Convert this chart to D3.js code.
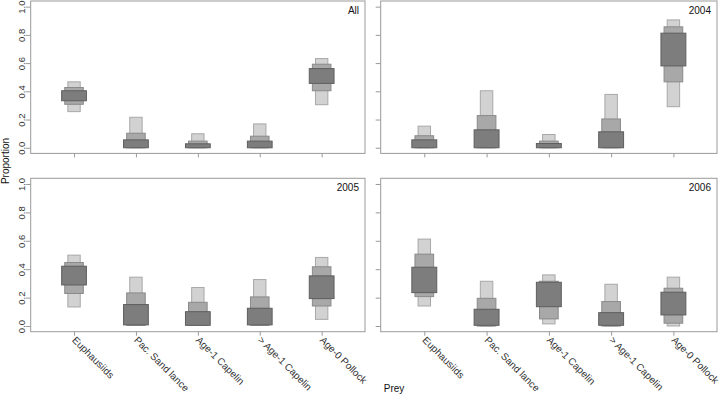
<!DOCTYPE html>
<html>
<head>
<meta charset="utf-8">
<script src="https://cdn.jsdelivr.net/npm/d3@7"></script>
<style>
    body { margin: 0; background: #fff; }
    svg { display: block; font-family: "Liberation Sans", Arial, sans-serif; }
</style>
</head>
<body>
<svg id="chart" width="720" height="397"></svg>
<script>
// Prey groups along the x axis
const prey = ["Euphausiids", "Pac. Sand lance", "Age-1 Capelin", "> Age-1 Capelin", "Age-0 Pollock"];
const panelNames = ["All", "2004", "2005", "2006"];
const yTicks = [0, 0.2, 0.4, 0.6, 0.8, 1.0];

// credible intervals [low, high], one pair per prey
const all95 = [[0.256, 0.467], [0, 0.216], [0, 0.099], [0, 0.169], [0.305, 0.632]];
const all75 = [[0.308, 0.427], [0, 0.103], [0, 0.047], [0, 0.082], [0.404, 0.592]];
const all50 = [[0.333, 0.404], [0, 0.056], [0, 0.028], [0, 0.047], [0.456, 0.561]];

const y2004_95 = [[0, 0.153], [0, 0.404], [0, 0.094], [0, 0.378], [0.291, 0.906]];
const y2004_75 = [[0, 0.085], [0, 0.228], [0, 0.047], [0, 0.204], [0.467, 0.857]];
const y2004_50 = [[0, 0.056], [0, 0.127], [0, 0.030], [0, 0.113], [0.580, 0.812]];

const y2005_95 = [[0.134, 0.499], [0.005, 0.344], [0.005, 0.271], [0.005, 0.327], [0.047, 0.483]];
const y2005_75 = [[0.229, 0.447], [0.005, 0.233], [0.005, 0.167], [0.005, 0.205], [0.141, 0.417]];
const y2005_50 = [[0.289, 0.421], [0.008, 0.151], [0.005, 0.101], [0.008, 0.125], [0.193, 0.353]];

const y2006_95 = [[0.141, 0.612], [0, 0.315], [0.015, 0.360], [0, 0.294], [0, 0.344]];
const y2006_75 = [[0.207, 0.506], [0, 0.195], [0.050, 0.315], [0, 0.172], [0.020, 0.266]];
const y2006_50 = [[0.235, 0.414], [0.005, 0.118], [0.136, 0.308], [0.005, 0.094], [0.078, 0.238]];

const panelData = {
    "All": [all95, all75, all50],
    "2004": [y2004_95, y2004_75, y2004_50],
    "2005": [y2005_95, y2005_75, y2005_50],
    "2006": [y2006_95, y2006_75, y2006_50]
};

// box widths in x units and colours, widest interval drawn first
const levels = [
    {width: 0.2, fill: "#d2d2d2", stroke: "#a8a8a8"},
    {width: 0.3, fill: "#a8a8a8", stroke: "#8a8a8a"},
    {width: 0.4, fill: "#7d7d7d", stroke: "#5e5e5e"}
];

const frames = [
    {left: 30.7, right: 365, top: 1, bottom: 153.4},
    {left: 380.7, right: 717, top: 1, bottom: 153.4},
    {left: 30.7, right: 365, top: 178.3, bottom: 331.7},
    {left: 380.7, right: 717, top: 178.3, bottom: 331.7}
];

const svg = d3.select("#chart");
const axisGrey = "#9a9a9a";
const textGrey = "#333";

panelNames.forEach((name, i) => {
    const f = frames[i];
    const isLeft = i % 2 === 0;
    const isBottom = i >= 2;

    const x = d3.scaleLinear().domain([0.3, 5.7]).range([f.left, f.right]);
    const y = d3.scaleLinear().domain([-0.04, 1.04]).range([f.bottom, f.top]);

    const g = svg.append("g");

    // y axis
    const yAxis = g.append("g")
        .attr("transform", `translate(${f.left},0)`)
        .call(d3.axisLeft(y).tickValues(yTicks).tickSize(5).tickFormat(d3.format(".1f")));
    yAxis.select(".domain").remove();
    yAxis.selectAll("line").attr("stroke", axisGrey);
    if (isLeft) {
        yAxis.selectAll("text")
            .attr("x", 0).attr("y", -6).attr("dy", 0)
            .attr("transform", "rotate(-90)")
            .style("text-anchor", "middle")
            .style("font-size", "9.5px")
            .attr("fill", textGrey);
    } else {
        yAxis.selectAll("text").remove();
    }

    // x axis
    const xAxis = g.append("g")
        .attr("transform", `translate(0,${f.bottom})`)
        .call(d3.axisBottom(x).tickValues(d3.range(1, prey.length + 1)).tickSize(4).tickFormat((d) => prey[d - 1]));
    xAxis.select(".domain").remove();
    xAxis.selectAll("line").attr("stroke", axisGrey);
    if (isBottom) {
        xAxis.selectAll("text")
            .attr("x", 0).attr("y", 0).attr("dy", 0)
            .attr("transform", "translate(-3,9) rotate(45)")
            .style("text-anchor", "start")
            .style("font-size", "10px")
            .attr("fill", textGrey);
    } else {
        xAxis.selectAll("text").remove();
    }

    // nested interval boxes
    panelData[name].forEach((intervals, li) => {
        const lv = levels[li];
        g.selectAll(null)
            .data(intervals)
            .enter()
            .append("rect")
            .attr("x", (d, k) => x(k + 1 - lv.width / 2))
            .attr("width", x(lv.width) - x(0))
            .attr("y", d => y(d[1]))
            .attr("height", d => Math.max(y(d[0]) - y(d[1]), 1))
            .attr("fill", lv.fill)
            .attr("stroke", lv.stroke)
            .attr("stroke-width", 1);
    });

    // frame
    g.append("rect")
        .attr("x", f.left).attr("y", f.top)
        .attr("width", f.right - f.left).attr("height", f.bottom - f.top)
        .attr("fill", "none")
        .attr("stroke", axisGrey);

    // panel label
    g.append("text")
        .attr("x", f.right - 6)
        .attr("y", f.top + 13)
        .style("text-anchor", "end")
        .style("font-size", "10px")
        .attr("fill", "#111")
        .text(name);
});

// axis titles
svg.append("text")
    .attr("transform", "translate(9,161) rotate(-90)")
    .style("text-anchor", "middle")
    .style("font-size", "10px")
    .attr("fill", "#111")
    .text("Proportion");

svg.append("text")
    .attr("x", 394)
    .attr("y", 392)
    .style("text-anchor", "middle")
    .style("font-size", "10px")
    .attr("fill", "#111")
    .text("Prey");
</script>
</body>
</html>
